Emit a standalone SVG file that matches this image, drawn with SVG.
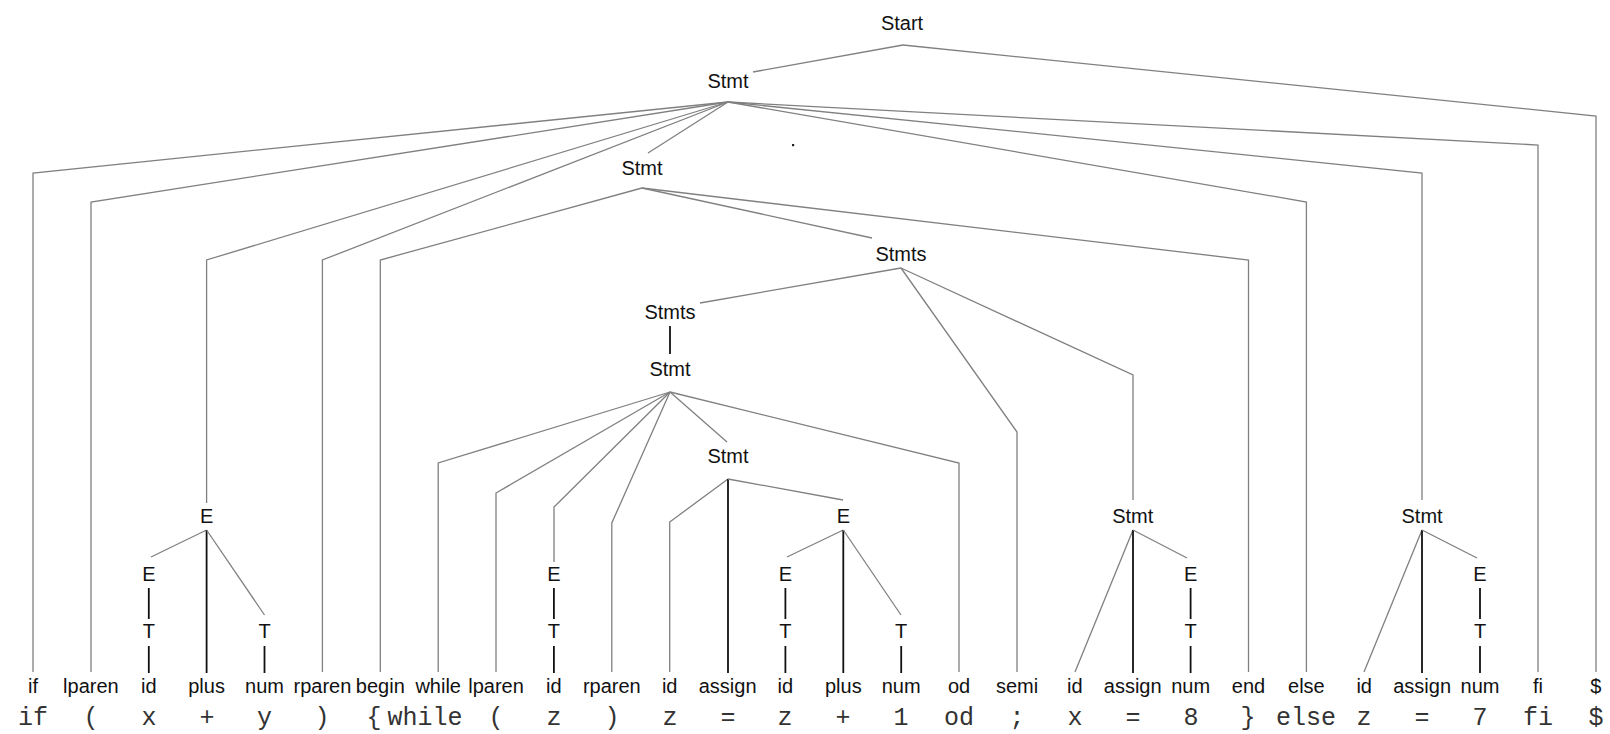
<svg xmlns="http://www.w3.org/2000/svg" width="1610" height="734" viewBox="0 0 1610 734">
<style>
.bg{fill:#fff}
.g{fill:none;stroke:#808080;stroke-width:1.3;stroke-linejoin:miter}
.k{fill:none;stroke:#111;stroke-width:1.8}
.nt{font-family:"Liberation Sans",Arial,sans-serif;font-size:20px;fill:#111;text-anchor:middle}
.tk{font-family:"Liberation Sans",Arial,sans-serif;font-size:20px;fill:#111;text-anchor:middle}
.cd{font-family:"Liberation Mono","Courier New",monospace;font-size:25px;fill:#333;text-anchor:middle}
</style>
<rect class="bg" x="0" y="0" width="1610" height="734"/>
<g id="connectors">
<polyline class="g" points="903,45 753,72"/>
<polyline class="g" points="903,45 1596,116 1596,672"/>
<polyline class="g" points="728,102 33,173 33,672"/>
<polyline class="g" points="728,102 91,202 91,672"/>
<polyline class="g" points="728,102 206.6,260 206.6,503"/>
<polyline class="g" points="728,102 648,153"/>
<polyline class="g" points="728,102 322.4,260 322.4,672"/>
<polyline class="g" points="728,102 1306.4,202 1306.4,672"/>
<polyline class="g" points="728,102 1422,173 1422,500"/>
<polyline class="g" points="728,102 1538,145 1538,672"/>
<polyline class="g" points="642,188 380.3,260 380.3,672"/>
<polyline class="g" points="642,188 872,238"/>
<polyline class="g" points="642,188 1248.5,260 1248.5,672"/>
<polyline class="g" points="901,268 700,303"/>
<polyline class="g" points="901,268 1017,432 1017,672"/>
<polyline class="g" points="901,268 1133,375 1133,500"/>
<line class="k" x1="670" y1="326" x2="670" y2="354"/>
<polyline class="g" points="670,392 438.2,463 438.2,672"/>
<polyline class="g" points="670,392 496,493 496,672"/>
<polyline class="g" points="670,392 554,507 554,562"/>
<polyline class="g" points="670,392 611.8,523 611.8,672"/>
<polyline class="g" points="670,392 727,442"/>
<polyline class="g" points="670,392 959,463 959,672"/>
<polyline class="g" points="728,479 669.7,522 669.7,672"/>
<line class="k" x1="728" y1="479" x2="728" y2="673"/>
<polyline class="g" points="728,479 843,500"/>
<polyline class="g" points="843.3,530 787,557"/>
<line class="k" x1="843.3" y1="530" x2="843.3" y2="673"/>
<polyline class="g" points="843.3,530 901,615"/>
<polyline class="g" points="206.6,530 151,557"/>
<line class="k" x1="206.6" y1="530" x2="206.6" y2="673"/>
<polyline class="g" points="206.6,530 264.5,615"/>
<line class="k" x1="148.8" y1="588" x2="148.8" y2="619"/>
<line class="k" x1="148.8" y1="646" x2="148.8" y2="673"/>
<line class="k" x1="264.5" y1="646" x2="264.5" y2="673"/>
<line class="k" x1="553.9" y1="588" x2="553.9" y2="619"/>
<line class="k" x1="553.9" y1="646" x2="553.9" y2="673"/>
<line class="k" x1="785.4" y1="588" x2="785.4" y2="619"/>
<line class="k" x1="785.4" y1="646" x2="785.4" y2="673"/>
<line class="k" x1="901.2" y1="646" x2="901.2" y2="673"/>
<line class="k" x1="1190.6" y1="588" x2="1190.6" y2="619"/>
<line class="k" x1="1190.6" y1="646" x2="1190.6" y2="673"/>
<line class="k" x1="1480" y1="588" x2="1480" y2="619"/>
<line class="k" x1="1480" y1="646" x2="1480" y2="673"/>
<polyline class="g" points="1133,530 1075,672"/>
<line class="k" x1="1133" y1="530" x2="1133" y2="673"/>
<polyline class="g" points="1133,530 1187,558"/>
<polyline class="g" points="1422,530 1364,672"/>
<line class="k" x1="1422" y1="530" x2="1422" y2="673"/>
<polyline class="g" points="1422,530 1477,558"/>
</g>
<rect x="792" y="144" width="2.2" height="2.2" fill="#222"/>
<g id="n-start"><text class="nt" x="902" y="30">Start</text></g>
<g id="n-stmt1"><text class="nt" x="728" y="88">Stmt</text></g>
<g id="n-stmt2"><text class="nt" x="642" y="175">Stmt</text></g>
<g id="n-stmts1"><text class="nt" x="901" y="261">Stmts</text></g>
<g id="n-stmts2"><text class="nt" x="670" y="319">Stmts</text></g>
<g id="n-stmt3"><text class="nt" x="670" y="376">Stmt</text></g>
<g id="n-stmt4"><text class="nt" x="728" y="463">Stmt</text></g>
<g id="n-stmt5"><text class="nt" x="1132.7" y="523">Stmt</text></g>
<g id="n-stmt6"><text class="nt" x="1422.1" y="523">Stmt</text></g>
<g id="n-e3"><text class="nt" x="206.6" y="523">E</text></g>
<g id="n-e14"><text class="nt" x="843.3" y="523">E</text></g>
<g id="n-e2"><text class="nt" x="148.8" y="581">E</text></g>
<g id="n-e9"><text class="nt" x="553.9" y="581">E</text></g>
<g id="n-e13"><text class="nt" x="785.4" y="581">E</text></g>
<g id="n-e20"><text class="nt" x="1190.6" y="581">E</text></g>
<g id="n-e25"><text class="nt" x="1480" y="581">E</text></g>
<g id="n-t2"><text class="nt" x="148.8" y="638">T</text></g>
<g id="n-t4"><text class="nt" x="264.5" y="638">T</text></g>
<g id="n-t9"><text class="nt" x="553.9" y="638">T</text></g>
<g id="n-t13"><text class="nt" x="785.4" y="638">T</text></g>
<g id="n-t15"><text class="nt" x="901.2" y="638">T</text></g>
<g id="n-t20"><text class="nt" x="1190.6" y="638">T</text></g>
<g id="n-t25"><text class="nt" x="1480" y="638">T</text></g>
<g id="tokens">
<text class="tk" x="33" y="693">if</text>
<text class="tk" x="90.9" y="693">lparen</text>
<text class="tk" x="148.8" y="693">id</text>
<text class="tk" x="206.6" y="693">plus</text>
<text class="tk" x="264.5" y="693">num</text>
<text class="tk" x="322.4" y="693">rparen</text>
<text class="tk" x="380.3" y="693">begin</text>
<text class="tk" x="438.2" y="693">while</text>
<text class="tk" x="496" y="693">lparen</text>
<text class="tk" x="553.9" y="693">id</text>
<text class="tk" x="611.8" y="693">rparen</text>
<text class="tk" x="669.7" y="693">id</text>
<text class="tk" x="727.6" y="693">assign</text>
<text class="tk" x="785.4" y="693">id</text>
<text class="tk" x="843.3" y="693">plus</text>
<text class="tk" x="901.2" y="693">num</text>
<text class="tk" x="959.1" y="693">od</text>
<text class="tk" x="1017" y="693">semi</text>
<text class="tk" x="1074.8" y="693">id</text>
<text class="tk" x="1132.7" y="693">assign</text>
<text class="tk" x="1190.6" y="693">num</text>
<text class="tk" x="1248.5" y="693">end</text>
<text class="tk" x="1306.4" y="693">else</text>
<text class="tk" x="1364.2" y="693">id</text>
<text class="tk" x="1422.1" y="693">assign</text>
<text class="tk" x="1480" y="693">num</text>
<text class="tk" x="1537.9" y="693">fi</text>
<text class="tk" x="1595.8" y="693">$</text>
</g>
<g id="code">
<text class="cd" x="33" y="725">if</text>
<text class="cd" x="91" y="725">(</text>
<text class="cd" x="149" y="725">x</text>
<text class="cd" x="207" y="725">+</text>
<text class="cd" x="264.5" y="725">y</text>
<text class="cd" x="322" y="725">)</text>
<text class="cd" x="374" y="725">{</text>
<text class="cd" x="425" y="725">while</text>
<text class="cd" x="496" y="725">(</text>
<text class="cd" x="554" y="725">z</text>
<text class="cd" x="612" y="725">)</text>
<text class="cd" x="670" y="725">z</text>
<text class="cd" x="728" y="725">=</text>
<text class="cd" x="785" y="725">z</text>
<text class="cd" x="843" y="725">+</text>
<text class="cd" x="901" y="725">1</text>
<text class="cd" x="959" y="725">od</text>
<text class="cd" x="1017" y="725">;</text>
<text class="cd" x="1075" y="725">x</text>
<text class="cd" x="1133" y="725">=</text>
<text class="cd" x="1191" y="725">8</text>
<text class="cd" x="1248" y="725">}</text>
<text class="cd" x="1306" y="725">else</text>
<text class="cd" x="1364" y="725">z</text>
<text class="cd" x="1422" y="725">=</text>
<text class="cd" x="1480" y="725">7</text>
<text class="cd" x="1538" y="725">fi</text>
<text class="cd" x="1596" y="725">$</text>
</g>
</svg>
